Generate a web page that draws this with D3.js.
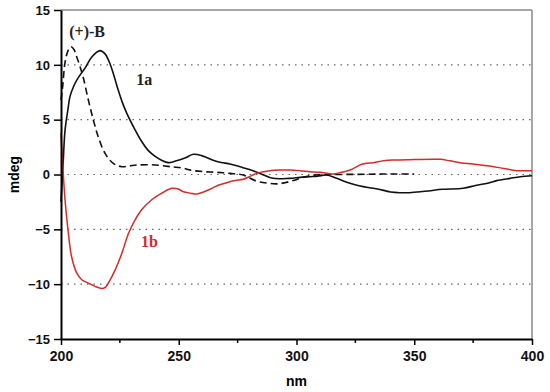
<!DOCTYPE html>
<html>
<head>
<meta charset="utf-8">
<script src="https://cdn.jsdelivr.net/npm/d3@7"></script>
<style>
  body { margin: 0; background: #fff; }
  svg { display: block; }
</style>
</head>
<body>
<div id="chart"></div>
<script>
// CD spectra
var nm1a = [200, 200.8, 201.7, 203, 203.8, 205.3, 206.7, 208.5, 210.2, 213, 216.6, 218.7, 220.8, 222.5, 224.3, 226, 227.9, 231.4, 234, 237, 240, 242.7, 245.5, 249, 252.6, 256.2, 260, 264.6, 268, 271.8, 276, 280, 284.5, 290, 297, 301.5, 305.7, 309, 312.8, 317, 322.7, 327, 332.6, 337, 340, 344, 348, 351, 356, 362, 370.8, 376, 382, 385, 390.7, 395, 400];
var val1a = [-2.5, 0.5, 4.0, 6.0, 7.1, 8.0, 8.6, 9.2, 9.7, 10.7, 11.3, 11.0, 10.1, 9.0, 7.7, 6.6, 5.6, 4.1, 3.1, 2.2, 1.65, 1.3, 1.08, 1.25, 1.5, 1.84, 1.7, 1.3, 1.1, 0.96, 0.7, 0.45, 0.1, -0.35, -0.35, -0.26, -0.2, -0.15, -0.05, -0.35, -0.8, -1.05, -1.26, -1.45, -1.6, -1.66, -1.66, -1.6, -1.5, -1.35, -1.26, -1.0, -0.75, -0.56, -0.35, -0.2, -0.12];

var nmB = [200, 200.7, 201.7, 203, 204.2, 205.5, 206.7, 208, 209.5, 211.6, 213.7, 215.8, 218.7, 222.2, 225.8, 229, 232.8, 240, 247, 252, 255, 260.4, 266, 271.8, 277.4, 283, 288, 292, 295, 298.6, 301.5, 305.7, 310, 315.5, 330, 340, 350];
var valB = [6.8, 8.0, 10.2, 11.3, 11.65, 11.4, 10.7, 9.9, 8.8, 6.8, 5.0, 3.45, 1.93, 1.02, 0.71, 0.78, 0.87, 0.87, 0.7, 0.57, 0.4, 0.26, 0.2, 0.1, -0.05, -0.6, -0.8, -0.85, -0.75, -0.55, -0.35, -0.1, -0.02, 0, 0.02, 0.05, 0.05];

var nm1b = [200, 200.3, 200.7, 201.7, 203.1, 204.5, 206.7, 208.8, 211.6, 214.4, 217.3, 218.8, 220.1, 223, 225.8, 228.6, 231.4, 234.3, 238.5, 242.8, 247, 249.5, 252, 255, 257.6, 260.5, 263.3, 266.5, 270.3, 274, 277.4, 280, 283, 286, 288.7, 293, 297.2, 301.5, 305.7, 310, 315.6, 319, 322.7, 328, 332.6, 337, 341, 350, 358, 361, 365, 369.4, 375, 382, 388, 393.5, 400];
var val1b = [3.8, 2.5, 1.05, -2.3, -5.3, -7.5, -9.0, -9.6, -9.9, -10.2, -10.4, -10.3, -9.9, -8.7, -7.2, -5.4, -4.15, -3.2, -2.3, -1.7, -1.26, -1.3, -1.57, -1.7, -1.78, -1.6, -1.35, -1.0, -0.75, -0.55, -0.44, -0.2, 0.1, 0.26, 0.35, 0.4, 0.41, 0.35, 0.26, 0.2, 0.05, 0.2, 0.41, 0.95, 1.08, 1.25, 1.32, 1.36, 1.38, 1.38, 1.25, 1.08, 0.95, 0.77, 0.55, 0.35, 0.35];

var xTicks = [200, 250, 300, 350, 400];
var xMinor = [225, 275, 325, 375];
var yTicks = [-15, -10, -5, 0, 5, 10, 15];
var yGrid = [-10, -5, 0, 5, 10];

var width = 550, height = 392;
var margin = {top: 10, right: 18, bottom: 53, left: 61};

var svg = d3.select("#chart").append("svg")
    .attr("width", width)
    .attr("height", height);

var x = d3.scaleLinear().domain([200, 400]).range([margin.left, width - margin.right]);
var y = d3.scaleLinear().domain([-15, 15]).range([height - margin.bottom, margin.top]);

// dotted grid
svg.selectAll(".grid")
  .data(yGrid)
  .enter().append("line")
  .attr("class", "grid")
  .attr("x1", x(200)).attr("x2", x(400))
  .attr("y1", function(d) { return y(d); })
  .attr("y2", function(d) { return y(d); })
  .style("stroke", "#666")
  .style("stroke-width", 1.2)
  .style("stroke-dasharray", "1.5,5");

// gray frame on top and right
svg.append("line")
  .attr("x1", x(200)).attr("x2", x(400))
  .attr("y1", y(15)).attr("y2", y(15))
  .style("stroke", "#888").style("stroke-width", 1.5);
svg.append("line")
  .attr("x1", x(400)).attr("x2", x(400))
  .attr("y1", y(15)).attr("y2", y(-15))
  .style("stroke", "#888").style("stroke-width", 1.5);

function series(xs, ys) {
  return xs.map(function(d, i) { return [d, ys[i]]; });
}

var line = d3.line()
  .x(function(d) { return x(d[0]); })
  .y(function(d) { return y(d[1]); })
  .curve(d3.curveCatmullRom.alpha(0.5));

svg.append("path")
  .datum(series(nmB, valB))
  .attr("d", line)
  .style("fill", "none")
  .style("stroke", "#111")
  .style("stroke-width", 1.6)
  .style("stroke-dasharray", "7,4");

svg.append("path")
  .datum(series(nm1a, val1a))
  .attr("d", line)
  .style("fill", "none")
  .style("stroke", "#111")
  .style("stroke-width", 1.6);

svg.append("path")
  .datum(series(nm1b, val1b))
  .attr("d", line)
  .style("fill", "none")
  .style("stroke", "#d42b2b")
  .style("stroke-width", 1.5);

// axes
var xAxis = svg.append("g")
  .attr("transform", "translate(0," + y(-15) + ")")
  .call(d3.axisBottom(x).tickValues(xTicks).tickSize(6).tickSizeOuter(0).tickPadding(6));
xAxis.append("g")
  .selectAll("line")
  .data(xMinor)
  .enter().append("line")
  .attr("x1", function(d) { return x(d); })
  .attr("x2", function(d) { return x(d); })
  .attr("y1", 0).attr("y2", 4)
  .style("stroke", "#000").style("stroke-width", 1.5);

var yAxis = svg.append("g")
  .attr("transform", "translate(" + x(200) + ",0)")
  .call(d3.axisLeft(y).tickValues(yTicks).tickSize(7).tickSizeOuter(0).tickPadding(4));

svg.selectAll(".domain").style("stroke", "#000").style("stroke-width", 2);
svg.selectAll(".tick line").style("stroke", "#000").style("stroke-width", 1.5);
svg.selectAll(".tick text")
  .style("font-family", "'Liberation Sans', Arial, sans-serif")
  .style("font-weight", "bold")
  .style("font-size", "13px")
  .style("fill", "#111");
xAxis.selectAll(".tick text").style("font-size", "14px");

// axis titles
svg.append("text")
  .attr("x", (x(200) + x(400)) / 2)
  .attr("y", 386)
  .attr("text-anchor", "middle")
  .style("font-family", "'Liberation Sans', Arial, sans-serif")
  .style("font-weight", "bold")
  .style("font-size", "14px")
  .text("nm");

svg.append("text")
  .attr("transform", "translate(19," + y(0) + ") rotate(-90)")
  .attr("text-anchor", "middle")
  .style("font-family", "'Liberation Sans', Arial, sans-serif")
  .style("font-weight", "bold")
  .style("font-size", "14px")
  .text("mdeg");

// curve labels
var labels = [
  {t: "(+)-B", nm: 203.5, v: 12.5, c: "#222"},
  {t: "1a", nm: 232, v: 8.2, c: "#222"},
  {t: "1b", nm: 234, v: -6.6, c: "#d42b2b"}
];
svg.selectAll(".lbl")
  .data(labels)
  .enter().append("text")
  .attr("class", "lbl")
  .attr("x", function(d) { return x(d.nm); })
  .attr("y", function(d) { return y(d.v); })
  .style("font-family", "'Liberation Serif', 'Times New Roman', serif")
  .style("font-weight", "bold")
  .style("font-size", "16px")
  .style("fill", function(d) { return d.c; })
  .text(function(d) { return d.t; });
</script>
</body>
</html>
